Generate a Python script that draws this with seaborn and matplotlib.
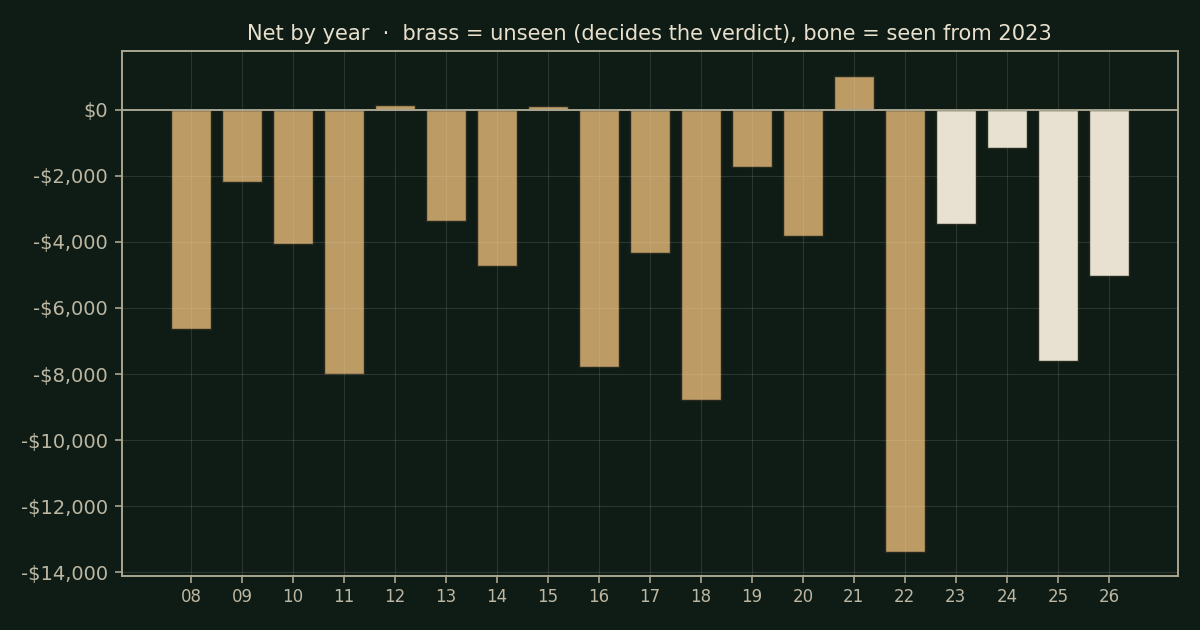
import pandas as pd
import seaborn as sns
import matplotlib.pyplot as plt
from matplotlib.ticker import FuncFormatter, MultipleLocator

# data
years = ['08', '09', '10', '11', '12', '13', '14', '15', '16', '17',
         '18', '19', '20', '21', '22', '23', '24', '25', '26']
net = [-6630, -2190, -4070, -7990, 150, -3360, -4730, 120, -7780, -4340,
       -8780, -1730, -3820, 1030, -13380, -3450, -1150, -7600, -5030]
group = ['unseen'] * 15 + ['seen'] * 4

bg = '#0f1c16'
brass = '#bd9b65'
bone = '#e8e1d1'
frame = '#a9a591'
label = '#bcb7a2'

df = pd.DataFrame({'year': years, 'net': net, 'group': group})

sns.set_theme(style='dark')
plt.rcParams['font.family'] = ['DejaVu Sans']

fig = plt.figure(figsize=(12, 6.3), dpi=100, facecolor=bg)
ax = fig.add_axes([0.1017, 0.0857, 0.8797, 0.8338])
ax.set_facecolor(bg)

sns.barplot(data=df, x='year', y='net', hue='group', order=years,
            palette={'unseen': brass, 'seen': bone}, dodge=False,
            saturation=1, width=0.78, edgecolor='#262a1e', linewidth=1.0,
            legend=False, ax=ax)

ax.set_xlim(-1.35, len(years) - 1 + 1.35)
ax.set_ylim(-14110, 1785)
ax.yaxis.set_major_locator(MultipleLocator(2000))
ax.yaxis.set_major_formatter(FuncFormatter(
    lambda v, p: ('-$' if v < 0 else '$') + f'{abs(v):,.0f}'))

ax.grid(True, color='#e8e1d1', alpha=0.13, linewidth=0.8)
ax.set_axisbelow(False)
ax.axhline(0, color=frame, linewidth=1.4, zorder=3)

for s in ax.spines.values():
    s.set_visible(True)
    s.set_color(frame)
    s.set_linewidth(1.4)

ax.tick_params(axis='both', colors=frame, labelcolor=label,
               length=5, width=1.2, left=True, bottom=True)
ax.tick_params(axis='x', labelsize=12)
ax.tick_params(axis='y', labelsize=14, pad=5)
ax.set_xlabel('')
ax.set_ylabel('')
ax.set_title('Net by year  \u00b7  brass = unseen (decides the verdict), bone = seen from 2023',
             color='#e8e0cc', fontsize=15.1, pad=8)

fig.savefig('out.png', dpi=100, facecolor=bg)
